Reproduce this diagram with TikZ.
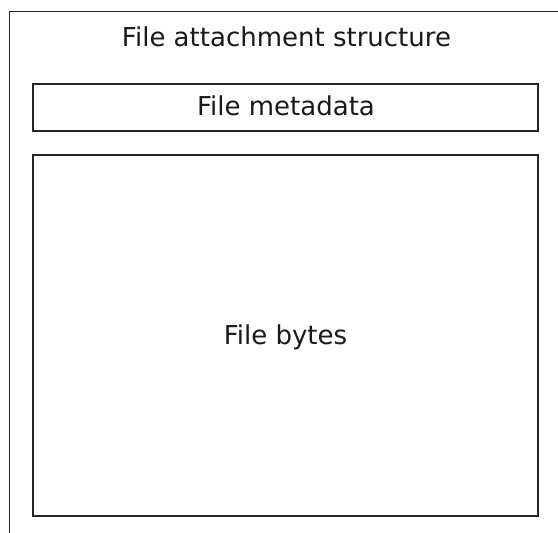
\documentclass[tikz,border=0pt]{standalone}
\usepackage{fontspec}
\setmainfont{DejaVu Sans}
\begin{document}
\begin{tikzpicture}[x=1pt,y=-1pt,
  box/.style={draw=black!85,line width=1.6pt},
  lbl/.style={font=\fontsize{26}{30}\selectfont,inner sep=0pt,anchor=base,text=black!90}]
\useasboundingbox (0,0) rectangle (558,533);
\coordinate (ob) at (9.5,533);
\coordinate (otl) at (9.5,11.5);
\coordinate (or) at (558,11.5);
\draw[box] (ob) -- (otl) -- (or);
\node[lbl] (title) at (286.5,46.5) {File attachment structure};
\node[box,minimum width=505pt,minimum height=47pt,inner sep=0pt] (meta) at (285.5,107.5) {};
\node[lbl] (metat) at (286,115) {File metadata};
\node[box,minimum width=505pt,minimum height=361pt,inner sep=0pt] (bytes) at (285.5,335.5) {};
\node[lbl] (bytest) at (285.5,344) {File bytes};
\end{tikzpicture}
\end{document}
